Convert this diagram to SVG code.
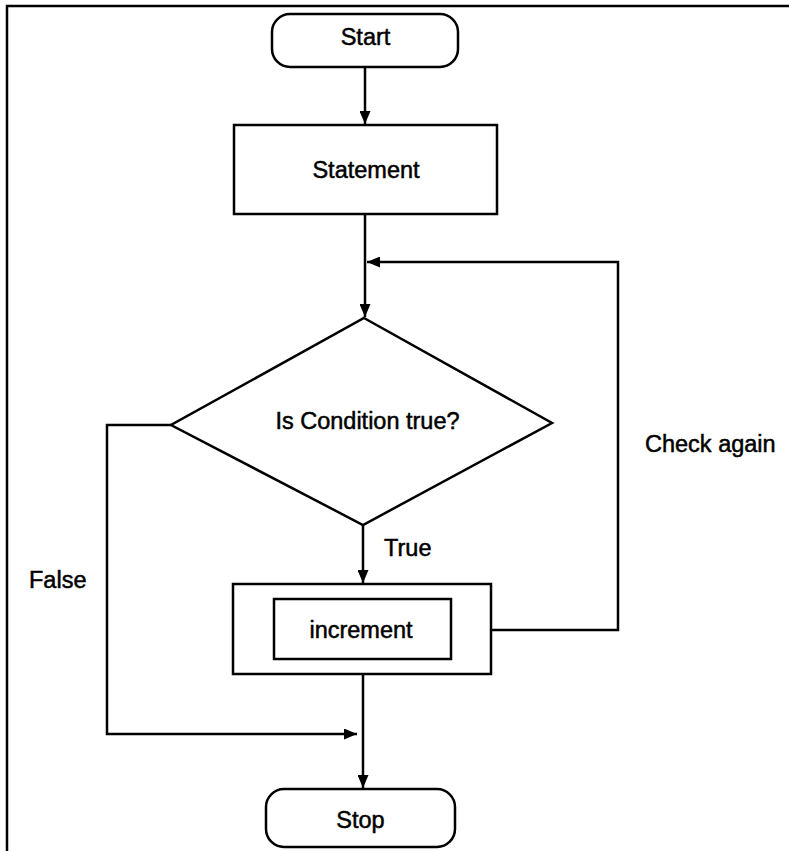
<svg xmlns="http://www.w3.org/2000/svg" width="789" height="851" viewBox="0 0 789 851">
<style>
.s{fill:none;stroke:#000;stroke-width:2.5}
.b{fill:#fff;stroke:#000;stroke-width:2.5}
.t{font-family:"Liberation Sans",Arial,sans-serif;font-size:23.5px;fill:#000;stroke:#000;stroke-width:0.5}
.m{text-anchor:middle}
</style>
<defs>
<marker id="ah" viewBox="0 0 13 11" refX="13" refY="5.5" markerWidth="13" markerHeight="11" markerUnits="userSpaceOnUse" orient="auto">
<path d="M0,0 L13,5.5 L0,11 z" fill="#000"/>
</marker>
</defs>
<rect width="789" height="851" fill="#fff"/>
<g id="frame">
<path class="s" d="M7,851 L7,6 L789,6" stroke-width="2.5"/>
</g>
<g id="connectors">
<path class="s" d="M365,67 L365,124" marker-end="url(#ah)"/>
<path class="s" d="M365,214 L365,317" marker-end="url(#ah)"/>
<path class="s" d="M491,630 L618,630 L618,262 L367,262" marker-end="url(#ah)"/>
<path class="s" d="M363,525 L363,583" marker-end="url(#ah)"/>
<path class="s" d="M363,674 L363,788" marker-end="url(#ah)"/>
<path class="s" d="M171,425 L107,425 L107,734 L357,734" marker-end="url(#ah)"/>
<text class="t" x="384" y="556">True</text>
<text class="t" x="29" y="588">False</text>
<text class="t" x="645" y="452">Check again</text>
</g>
<g id="start">
<rect class="b" x="272" y="14" width="186" height="53" rx="18"/>
<text class="t m" x="365.5" y="45">Start</text>
</g>
<g id="statement">
<rect class="b" x="234" y="125" width="263" height="89"/>
<text class="t m" x="366" y="178">Statement</text>
</g>
<g id="condition">
<path class="b" d="M364,318 L552,423 L363,525 L171,425 Z"/>
<text class="t m" x="367.5" y="429">Is Condition true?</text>
</g>
<g id="increment">
<rect class="b" x="233" y="584" width="258" height="90"/>
<rect class="b" x="274" y="599" width="177" height="60"/>
<text class="t m" x="361" y="638">increment</text>
</g>
<g id="stop">
<rect class="b" x="266" y="789" width="189" height="58" rx="18"/>
<text class="t m" x="360.5" y="828">Stop</text>
</g>
</svg>
